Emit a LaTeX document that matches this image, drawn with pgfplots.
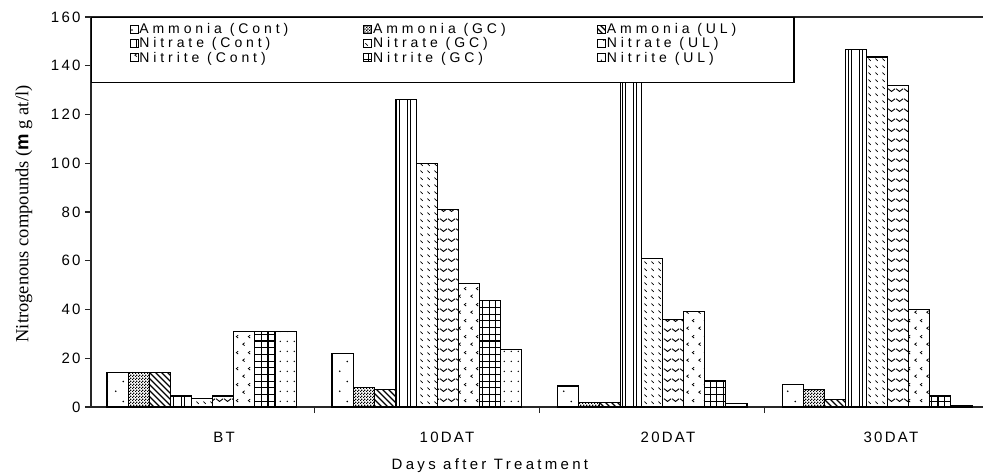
\documentclass[border=0pt]{standalone}
\usepackage{pgfplots}
\pgfplotsset{compat=1.18}
\usetikzlibrary{patterns}
\usepackage{fontspec}
\setmainfont{Liberation Serif}
\setsansfont{Liberation Sans}
\newfontfamily\sansSp[LetterSpace=15]{Liberation Sans}
\newfontfamily\labSp[LetterSpace=22]{Liberation Sans}
\newfontfamily\legSp[LetterSpace=28]{Liberation Sans}
\newcommand\tickfont{\sansSp\fontsize{15}{17}\selectfont}
\newcommand\labfont{\labSp\fontsize{15}{17}\selectfont}
\newcommand\legfont{\legSp\fontsize{14}{16}\selectfont}
\newcommand\lent[1]{\makebox[148pt][l]{#1}}

% patterns
\pgfdeclarepatternformonly{amcont}{\pgfqpoint{0pt}{0pt}}{\pgfqpoint{16pt}{20pt}}{\pgfqpoint{16pt}{20pt}}{%
  \pgfpathcircle{\pgfqpoint{4pt}{5pt}}{0.9pt}%
  \pgfpathcircle{\pgfqpoint{12pt}{15pt}}{0.9pt}%
  \pgfusepath{fill}}
\pgfdeclarepatternformonly{amgc}{\pgfqpoint{0pt}{0pt}}{\pgfqpoint{3pt}{3pt}}{\pgfqpoint{3pt}{3pt}}{%
  \pgfpathrectangle{\pgfqpoint{0pt}{0pt}}{\pgfqpoint{1.5pt}{1.5pt}}%
  \pgfpathrectangle{\pgfqpoint{1.5pt}{1.5pt}}{\pgfqpoint{1.5pt}{1.5pt}}%
  \pgfusepath{fill}}
\pgfdeclarepatternformonly{amul}{\pgfqpoint{-1pt}{-1pt}}{\pgfqpoint{7pt}{7pt}}{\pgfqpoint{6pt}{6pt}}{%
  \pgfsetlinewidth{1.1pt}%
  \pgfpathmoveto{\pgfqpoint{-0.1pt}{6.1pt}}\pgfpathlineto{\pgfqpoint{6.1pt}{-0.1pt}}%
  \pgfusepath{stroke}}
\pgfdeclarepatternformonly{nacont}{\pgfqpoint{0pt}{-1pt}}{\pgfqpoint{11.3pt}{5pt}}{\pgfqpoint{11.3pt}{4pt}}{%
  \pgfsetlinewidth{1.1pt}%
  \pgfpathmoveto{\pgfqpoint{0.6pt}{-1pt}}\pgfpathlineto{\pgfqpoint{0.6pt}{5pt}}%
  \pgfpathmoveto{\pgfqpoint{3.6pt}{-1pt}}\pgfpathlineto{\pgfqpoint{3.6pt}{5pt}}%
  \pgfusepath{stroke}}
\pgfdeclarepatternformonly{nagc}{\pgfqpoint{0pt}{0pt}}{\pgfqpoint{6.5pt}{7pt}}{\pgfqpoint{6.5pt}{7pt}}{%
  \pgfsetlinewidth{0.8pt}%
  \pgfpathmoveto{\pgfqpoint{1.5pt}{5pt}}\pgfpathlineto{\pgfqpoint{4pt}{2.5pt}}%
  \pgfusepath{stroke}}
\pgfdeclarepatternformonly{naul}{\pgfqpoint{0pt}{0pt}}{\pgfqpoint{8pt}{10pt}}{\pgfqpoint{8pt}{10pt}}{%
  \pgfsetlinewidth{1pt}%
  \pgfpathmoveto{\pgfqpoint{0pt}{8pt}}\pgfpathlineto{\pgfqpoint{4pt}{5pt}}\pgfpathlineto{\pgfqpoint{8pt}{8pt}}%
  \pgfusepath{stroke}}
\pgfdeclarepatternformonly{nicont}{\pgfqpoint{0pt}{0pt}}{\pgfqpoint{12pt}{16pt}}{\pgfqpoint{12pt}{16pt}}{%
  \pgfsetlinewidth{0.8pt}%
  \pgfpathmoveto{\pgfqpoint{5pt}{5.5pt}}\pgfpathlineto{\pgfqpoint{3pt}{4pt}}\pgfpathlineto{\pgfqpoint{5pt}{2.5pt}}%
  \pgfpathmoveto{\pgfqpoint{11pt}{13.5pt}}\pgfpathlineto{\pgfqpoint{9pt}{12pt}}\pgfpathlineto{\pgfqpoint{11pt}{10.5pt}}%
  \pgfusepath{stroke}}
\pgfdeclarepatternformonly{nigc}{\pgfqpoint{-1pt}{-1pt}}{\pgfqpoint{7.7pt}{7.7pt}}{\pgfqpoint{6.7pt}{6.7pt}}{%
  \pgfsetlinewidth{1.1pt}%
  \pgfpathmoveto{\pgfqpoint{0pt}{0pt}}\pgfpathlineto{\pgfqpoint{0pt}{6.8pt}}%
  \pgfpathmoveto{\pgfqpoint{0pt}{0pt}}\pgfpathlineto{\pgfqpoint{6.8pt}{0pt}}%
  \pgfusepath{stroke}}
\pgfdeclarepatternformonly{niul}{\pgfqpoint{0pt}{0pt}}{\pgfqpoint{7.3pt}{10pt}}{\pgfqpoint{7.3pt}{10pt}}{%
  \pgfpathcircle{\pgfqpoint{3.6pt}{5pt}}{0.8pt}%
  \pgfusepath{fill}}

\begin{document}
\begin{tikzpicture}
\path[use as bounding box] (0pt,0pt) rectangle (983pt,475pt);
\begin{axis}[
  at={(91pt,68pt)}, anchor=south west,
  scale only axis, width=898.5pt, height=390pt,
  xmin=-0.4933, xmax=3.5, ymin=0, ymax=160,
  ybar=0pt, bar width=21.1pt,
  ytick={0,20,...,160},
  xtick={0.5,1.5,2.5}, xticklabels={,,},
  extra x ticks={0.098,1.089,2.071,3.062},
  extra x tick labels={BT,10DAT,20DAT,30DAT},
  extra x tick style={major tick length=0pt, tick label style={anchor=center, yshift=-30pt}},
  tick align=outside, tick pos=left, major tick length=6pt,
  axis line style={line width=1.4pt, black!85},
  every tick/.style={line width=1.2pt, black!85},
  tick label style={font=\tickfont},
  /pgf/number format/assume math mode=true,
  yticklabel style={xshift=-1pt},
  xlabel={Days after Treatment},
  xlabel style={font=\labfont, at={(axis description cs:0.444,0)}, anchor=center, yshift=-59pt},
  ylabel={Nitrogenous compounds ({\sffamily\bfseries m} g at/l)},
  ylabel style={font=\fontsize{18.5}{22}\selectfont, at={(axis description cs:-0.0745,0.495)}, anchor=center},
  legend columns=3,
  legend style={at={(0,1)}, anchor=north west, draw=black, line width=1.1pt, fill=white,
    inner xsep=38pt, inner ysep=6pt, font=\legfont, row sep=2.6pt,
    /tikz/every even column/.append style={column sep=75pt},
    cells={anchor=west}, nodes={inner xsep=1pt, inner ysep=0pt}},
  legend image code/.code={\draw[#1, line width=0.8pt] (0pt,-4pt) rectangle (8pt,4pt);},
]
\addplot[draw=black, line width=1.1pt, pattern=amcont] coordinates {(0,14) (1,22) (2,8.6) (3,9.4)};
\addlegendentry{\lent{Ammonia (Cont)}}
\addplot[draw=black, line width=1.1pt, pattern=amgc] coordinates {(0,14) (1,8) (2,2) (3,7)};
\addlegendentry{\lent{Ammonia (GC)}}
\addplot[draw=black, line width=1.1pt, pattern=amul] coordinates {(0,14) (1,7) (2,2) (3,3)};
\addlegendentry{\lent{Ammonia (UL)}}
\addplot[draw=black, line width=1.1pt, pattern=nacont] coordinates {(0,4.5) (1,126) (2,140) (3,146.6)};
\addlegendentry{\lent{Nitrate (Cont)}}
\addplot[draw=black, line width=1.1pt, pattern=nagc] coordinates {(0,3.5) (1,100) (2,61) (3,143.6)};
\addlegendentry{\lent{Nitrate (GC)}}
\addplot[draw=black, line width=1.1pt, pattern=naul] coordinates {(0,4.5) (1,81) (2,36) (3,132)};
\addlegendentry{\lent{Nitrate (UL)}}
\addplot[draw=black, line width=1.1pt, pattern=nicont] coordinates {(0,31) (1,50.5) (2,39) (3,40)};
\addlegendentry{\lent{Nitrite (Cont)}}
\addplot[draw=black, line width=1.1pt, pattern=nigc] coordinates {(0,31) (1,43.6) (2,11) (3,4.5)};
\addlegendentry{\lent{Nitrite (GC)}}
\addplot[draw=black, line width=1.1pt, pattern=niul] coordinates {(0,31) (1,23.5) (2,1.5) (3,0.5)};
\addlegendentry{\lent{Nitrite (UL)}}
\addlegendimage{empty legend}
\addlegendentry{\rule{0pt}{9pt}}
\end{axis}
\end{tikzpicture}
\end{document}
